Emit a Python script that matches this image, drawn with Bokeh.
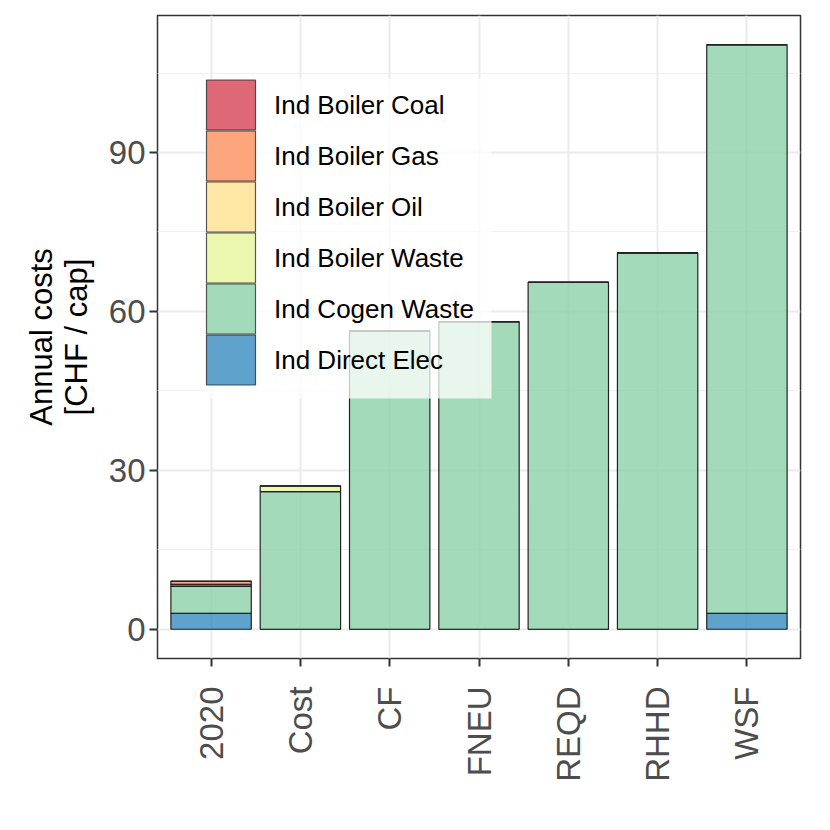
import math
from bokeh.plotting import figure
from bokeh.models import (ColumnDataSource, FactorRange, Range1d, FixedTicker,
                          Legend, LegendItem, BoxAnnotation)
from bokeh.embed import file_html
from bokeh.resources import INLINE

# ---- data ----
categories = ["2020", "Cost", "CF", "FNEU", "REQD", "RHHD", "WSF"]
ind_direct_elec = [3.0, 0.0, 0.0, 0.0, 0.0, 0.0, 3.0]
ind_cogen_waste = [5.1, 26.0, 56.35, 58.05, 65.5, 71.05, 107.35]
ind_boiler_waste = [0.3, 1.05, 0.0, 0.0, 0.0, 0.0, 0.0]
ind_boiler_oil = [0.1, 0.0, 0.0, 0.0, 0.0, 0.0, 0.0]
ind_boiler_gas = [0.55, 0.0, 0.0, 0.0, 0.0, 0.0, 0.0]
ind_boiler_coal = [0.05, 0.0, 0.0, 0.0, 0.0, 0.0, 0.0]

series_names = ["Ind Direct Elec", "Ind Cogen Waste", "Ind Boiler Waste",
                "Ind Boiler Oil", "Ind Boiler Gas", "Ind Boiler Coal"]
series_keys = ["elec", "cogen", "bwaste", "oil", "gas", "coal"]
series_colors = ["#3288BD", "#89D1A7", "#E6F598", "#FEE08B", "#FC8D59", "#D53E4F"]

y_ticks = [0, 30, 60, 90]
y_minor = [15, 45, 75, 105]

source = ColumnDataSource(data=dict(
    cat=categories,
    elec=ind_direct_elec,
    cogen=ind_cogen_waste,
    bwaste=ind_boiler_waste,
    oil=ind_boiler_oil,
    gas=ind_boiler_gas,
    coal=ind_boiler_coal,
))

FONT = "Liberation Sans"
FILL_ALPHA = 0.78
OUTLINE = "#222222"

p = figure(width=814, height=814,
           x_range=FactorRange(factors=categories, range_padding=0.1,
                               range_padding_units="absolute"),
           y_range=Range1d(-5.52, 115.87),
           output_backend="svg", toolbar_location=None,
           min_border_left=157, min_border_right=14,
           min_border_top=15, min_border_bottom=156)

renderers = p.vbar_stack(series_keys, x="cat", width=0.9, source=source,
                         fill_color=series_colors, fill_alpha=FILL_ALPHA,
                         line_color=OUTLINE, line_width=1.2)

frame_h = 814 - 15 - 156   # frame height in px

# legend background (semi-transparent white panel)
legend_bg = BoxAnnotation(left=48, right=334, top=frame_h - 63, bottom=260,
                          left_units="screen", right_units="screen",
                          top_units="screen", bottom_units="screen",
                          fill_color="white", fill_alpha=0.75, line_color=None)
p.add_layout(legend_bg)

# invisible stand-in renderer: the legend carries the texts,
# the full-size key boxes are drawn as screen-space annotations on top
dummy = p.vbar(x=[], top=[], width=0.9, fill_alpha=0, line_alpha=0)

legend_order = list(zip(series_names, series_colors))[::-1]
items = [LegendItem(label=n, renderers=[dummy]) for n, _ in legend_order]
legend = Legend(items=items, location=(49, 273), padding=0, spacing=1,
                glyph_width=50, glyph_height=50, label_standoff=18, margin=0,
                border_line_color=None, background_fill_alpha=0,
                label_text_font=FONT, label_text_font_size="26px",
                label_text_color="black")
p.add_layout(legend, "center")

key_left, key_w, key_h, key_pitch, key_top0 = 49, 49, 50, 51, 64.5
for i, (_, col) in enumerate(legend_order):
    top_px = key_top0 + i * key_pitch
    box = BoxAnnotation(left=key_left, right=key_left + key_w,
                        top=frame_h - top_px, bottom=frame_h - top_px - key_h,
                        left_units="screen", right_units="screen",
                        top_units="screen", bottom_units="screen",
                        fill_color=col, fill_alpha=FILL_ALPHA,
                        line_color=OUTLINE, line_alpha=0.75, line_width=1.2,
                        level="overlay")
    p.add_layout(box)

# frame / background
p.background_fill_color = "white"
p.border_fill_color = "white"
p.outline_line_color = "#333333"
p.outline_line_width = 1.5

# grids
p.xgrid.grid_line_color = "#EBEBEB"
p.xgrid.grid_line_width = 2
p.ygrid.grid_line_color = "#EBEBEB"
p.ygrid.grid_line_width = 2
p.ygrid.minor_grid_line_color = "#F0F0F0"
p.ygrid.minor_grid_line_width = 1.2

p.yaxis.ticker = FixedTicker(ticks=y_ticks, minor_ticks=y_minor)

for ax in (p.xaxis[0], p.yaxis[0]):
    ax.axis_line_color = None
    ax.major_tick_line_color = "#333333"
    ax.major_tick_line_width = 2
    ax.major_tick_out = 8
    ax.major_tick_in = 0
    ax.minor_tick_line_color = None
    ax.major_label_text_font = FONT
    ax.major_label_text_font_size = "33px"
    ax.major_label_text_color = "#4D4D4D"

p.yaxis.major_label_standoff = 4
p.xaxis.major_label_standoff = 20
p.xaxis.major_label_orientation = math.pi / 2

p.yaxis.axis_label = "Annual costs\n[CHF / cap]"
p.yaxis.axis_label_text_font = FONT
p.yaxis.axis_label_text_font_size = "31px"
p.yaxis.axis_label_text_font_style = "normal"
p.yaxis.axis_label_text_color = "black"
p.yaxis.axis_label_text_line_height = 0.98
p.yaxis.axis_label_standoff = 12

open("out.html", "w").write(file_html(p, INLINE))
